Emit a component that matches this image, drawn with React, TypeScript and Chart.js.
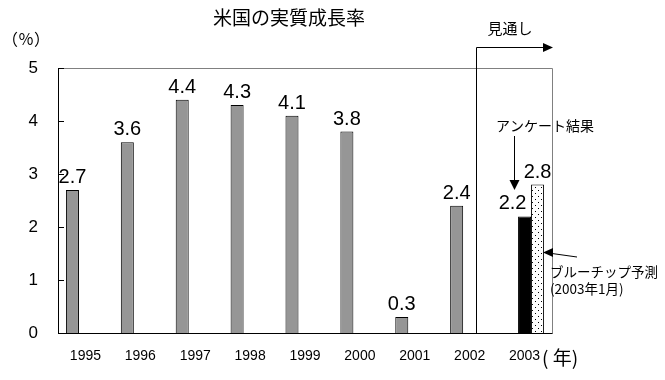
import React, { useEffect, useRef } from "react";
import { Chart, registerables } from "chart.js";

Chart.register(...registerables);

const years = ["1995", "1996", "1997", "1998", "1999", "2000", "2001", "2002", "2003"];
const actualGrowth = [2.7, 3.6, 4.4, 4.3, 4.1, 3.8, 0.3, 2.4, null];
const surveyResult = [null, null, null, null, null, null, null, null, 2.2];
const blueChip = [null, null, null, null, null, null, null, null, 2.8];
const yTicks = [0, 1, 2, 3, 4, 5];

const title = "米国の実質成長率";
const yUnit = "（％）";
const xUnit = "( 年)";
const outlookText = "見通し";
const surveyText = "アンケート結果";
const blueChipText1 = "ブルーチップ予測";
const blueChipText2 = "(2003年1月)";

const JP = '"Noto Sans CJK JP", sans-serif';
const NUM = '"Liberation Sans", Arial, sans-serif';

function makeDotPattern(): CanvasPattern | string {
  const c = document.createElement("canvas");
  c.width = 6;
  c.height = 6;
  const g = c.getContext("2d");
  if (!g) return "#ffffff";
  g.fillStyle = "#ffffff";
  g.fillRect(0, 0, 6, 6);
  g.fillStyle = "#000000";
  g.fillRect(1, 1, 1, 1);
  g.fillRect(4, 4, 1, 1);
  return g.createPattern(c, "repeat") || "#ffffff";
}

function arrowHead(ctx: CanvasRenderingContext2D, x: number, y: number, dir: "right" | "down" | "left", len: number, half: number) {
  ctx.beginPath();
  if (dir === "right") {
    ctx.moveTo(x, y);
    ctx.lineTo(x - len, y - half);
    ctx.lineTo(x - len, y + half);
  } else if (dir === "down") {
    ctx.moveTo(x, y);
    ctx.lineTo(x - half, y - len);
    ctx.lineTo(x + half, y - len);
  } else {
    ctx.moveTo(x, y);
    ctx.lineTo(x + len, y - half);
    ctx.lineTo(x + len, y + half);
  }
  ctx.closePath();
  ctx.fill();
}

const overlayPlugin = {
  id: "overlay",
  afterDraw(chart: any) {
    const ctx: CanvasRenderingContext2D = chart.ctx;
    const area = chart.chartArea;
    const xs = chart.scales.x;
    const ys = chart.scales.y;
    ctx.save();

    // frame
    ctx.lineWidth = 1;
    ctx.strokeStyle = "#808080";
    ctx.beginPath();
    ctx.moveTo(Math.round(area.left) + 0.5, Math.round(area.top) + 0.5);
    ctx.lineTo(Math.round(area.right) + 0.5, Math.round(area.top) + 0.5);
    ctx.lineTo(Math.round(area.right) + 0.5, Math.round(area.bottom) + 0.5);
    ctx.stroke();
    ctx.strokeStyle = "#000000";
    ctx.beginPath();
    ctx.moveTo(Math.round(area.left) + 0.5, Math.round(area.top) + 0.5);
    ctx.lineTo(Math.round(area.left) + 0.5, Math.round(area.bottom) + 0.5);
    ctx.lineTo(Math.round(area.right) + 0.5, Math.round(area.bottom) + 0.5);
    ctx.stroke();

    // inner y ticks
    ctx.beginPath();
    yTicks.forEach((v) => {
      const py = Math.round(ys.getPixelForValue(v)) + 0.5;
      ctx.moveTo(area.left, py);
      ctx.lineTo(area.left + 6, py);
    });
    ctx.stroke();

    // value labels
    ctx.fillStyle = "#000000";
    ctx.textAlign = "center";
    ctx.textBaseline = "alphabetic";
    ctx.font = `20px ${NUM}`;
    chart.data.datasets.forEach((ds: any, di: number) => {
      const meta = chart.getDatasetMeta(di);
      meta.data.forEach((bar: any, i: number) => {
        const v = ds.data[i];
        if (v === null || v === undefined) return;
        let dx = 0;
        if (di === 1) dx = -12;
        ctx.fillText(v.toFixed(1), bar.x + dx, bar.y - 7);
      });
    });

    // title & units
    ctx.font = `19px ${JP}`;
    ctx.textAlign = "center";
    ctx.textBaseline = "middle";
    ctx.fillText(title, 289, 18);
    ctx.font = `16px ${JP}`;
    ctx.textAlign = "left";
    ctx.fillText(yUnit, 2, 39);
    ctx.font = `19px ${JP}`;
    ctx.fillText(xUnit, 542, 358);

    // outlook arrow
    const lineX = Math.round(xs.getPixelForValue(7.12)) + 0.5;
    const topY = 47.5;
    ctx.beginPath();
    ctx.moveTo(lineX, area.bottom);
    ctx.lineTo(lineX, topY);
    ctx.lineTo(545, topY);
    ctx.stroke();
    arrowHead(ctx, 553, topY, "right", 10, 4.5);
    ctx.font = `15px ${JP}`;
    ctx.textAlign = "center";
    ctx.fillText(outlookText, 510, 28);

    // survey arrow
    ctx.beginPath();
    ctx.moveTo(514.5, 136);
    ctx.lineTo(514.5, 182);
    ctx.stroke();
    arrowHead(ctx, 514.5, 190, "down", 10, 5);
    ctx.font = `14px ${JP}`;
    ctx.textAlign = "left";
    ctx.fillText(surveyText, 496, 126);

    // blue chip arrow
    ctx.beginPath();
    ctx.moveTo(577, 257);
    ctx.lineTo(552, 253.5);
    ctx.stroke();
    arrowHead(ctx, 543, 252.5, "left", 10, 4.5);
    ctx.font = `13.5px ${JP}`;
    ctx.fillText(blueChipText1, 550, 272);
    ctx.fillText(blueChipText2, 550, 289);

    ctx.restore();
  },
};

export default function App() {
  const ref = useRef<HTMLCanvasElement | null>(null);

  useEffect(() => {
    document.body.style.margin = "0";
    const canvas = ref.current;
    if (!canvas) return;
    const chart = new Chart(canvas, {
      type: "bar",
      data: {
        labels: years,
        datasets: [
          {
            label: "実質成長率",
            data: actualGrowth,
            backgroundColor: "#969696",
            borderColor: "#000000",
            borderWidth: 1,
          },
          {
            label: "アンケート結果",
            data: surveyResult,
            backgroundColor: "#000000",
            borderColor: "#000000",
            borderWidth: 1,
          },
          {
            label: "ブルーチップ予測",
            data: blueChip,
            backgroundColor: makeDotPattern() as any,
            borderColor: "#000000",
            borderWidth: 1,
          },
        ],
      },
      options: {
        responsive: false,
        animation: false,
        devicePixelRatio: 1,
        layout: { padding: { top: 68, right: 113, left: 0, bottom: 0 } },
        datasets: { bar: { categoryPercentage: 0.711, barPercentage: 1 } },
        plugins: {
          legend: { display: false },
          tooltip: { enabled: false },
          title: { display: false },
        },
        scales: {
          x: {
            grid: { display: false, drawTicks: false, tickLength: 0 },
            border: { display: false },
            ticks: { color: "#000000", font: { family: NUM, size: 14 }, padding: 15, maxRotation: 0 },
            afterFit: (s: any) => {
              s.height = 47;
            },
          },
          y: {
            min: 0,
            max: 5,
            grid: { display: false, drawTicks: false, tickLength: 0 },
            border: { display: false },
            ticks: { stepSize: 1, color: "#000000", font: { family: NUM, size: 17 }, padding: 20 },
            afterFit: (s: any) => {
              s.width = 58;
            },
          },
        },
      },
      plugins: [overlayPlugin],
    });
    return () => chart.destroy();
  }, []);

  return (
    <div style={{ position: "absolute", left: 0, top: 0, width: 665, height: 380, background: "#ffffff" }}>
      <canvas ref={ref} width={665} height={380} style={{ display: "block" }} />
    </div>
  );
}
